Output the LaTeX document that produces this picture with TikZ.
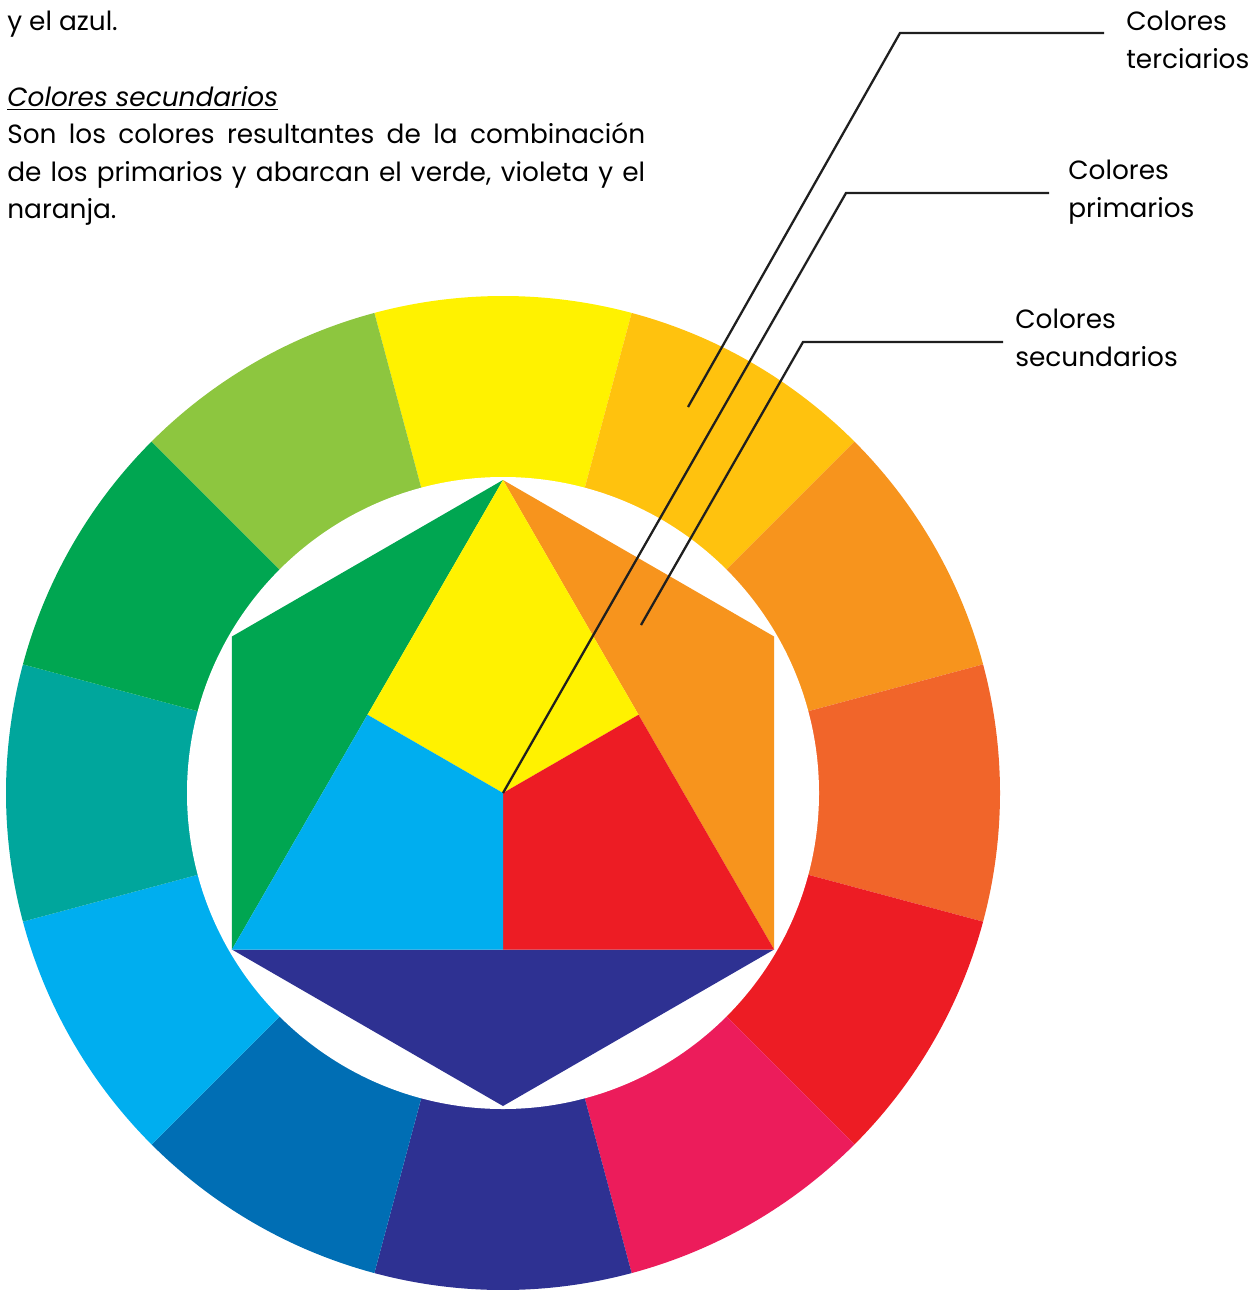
\documentclass[tikz,border=0pt]{standalone}
\usepackage{fontspec}
\setmainfont{Poppins}
\usepackage{xcolor}
\usetikzlibrary{calc}
\definecolor{cyel}{HTML}{FFF200}
\definecolor{cyeor}{HTML}{FFC20E}
\definecolor{corg}{HTML}{F7941D}
\definecolor{creor}{HTML}{F1652A}
\definecolor{cred}{HTML}{ED1C24}
\definecolor{cmag}{HTML}{EC1C5B}
\definecolor{cvio}{HTML}{2E3192}
\definecolor{cblu}{HTML}{006EB4}
\definecolor{ccya}{HTML}{00AEEF}
\definecolor{ctea}{HTML}{00A69C}
\definecolor{cgre}{HTML}{00A651}
\definecolor{cyegr}{HTML}{8DC63F}

\begin{document}
\begin{tikzpicture}[x=0.02cm,y=-0.02cm,
        lead/.style={draw=black!88,line width=1.3pt},
        lbl/.style={anchor=north west,inner sep=0pt,align=left,
                    font=\fontsize{15}{21.3}\selectfont}]
        \useasboundingbox (0,0) rectangle (1254,1290);
        \coordinate (c) at (503,793);
        % outer ring
        \foreach \a/\col in {-90/cyel,-60/cyeor,-30/corg,0/creor,30/cred,60/cmag,
                             90/cvio,120/cblu,150/ccya,180/ctea,210/cgre,240/cyegr}{
          \fill[\col] (c) -- ++(\a-15:497) arc[start angle=\a-15,end angle=\a+15,radius=497] -- cycle;
        }
        \fill[white] (c) circle[radius=316];
        % hexagon
        \foreach \n/\a in {t/-90,ur/-30,lr/30,b/90,ll/150,ul/210}
          \path (c) ++(\a:313) coordinate (\n);
        \coordinate (ml) at ($(t)!0.5!(ll)$);
        \coordinate (mr) at ($(t)!0.5!(lr)$);
        \coordinate (mb) at ($(ll)!0.5!(lr)$);
        \fill[corg] (t) -- (ur) -- (lr) -- cycle;
        \fill[cgre] (t) -- (ul) -- (ll) -- cycle;
        \fill[cvio] (ll) -- (lr) -- (b) -- cycle;
        \fill[cyel] (t) -- (mr) -- (c) -- (ml) -- cycle;
        \fill[cred] (c) -- (mr) -- (lr) -- (mb) -- cycle;
        \fill[ccya] (c) -- (mb) -- (ll) -- (ml) -- cycle;
        % leaders
        \coordinate (ter0) at (688,407);
        \coordinate (ter1) at (900,33);
        \coordinate (ter2) at (1104,33);
        \coordinate (pri1) at (846,193);
        \coordinate (pri2) at (1049,193);
        \coordinate (sec0) at (641,625);
        \coordinate (sec1) at (803,342);
        \coordinate (sec2) at (1003,342);
        \draw[lead] (ter0) -- (ter1) -- (ter2);
        \draw[lead] (c) -- (pri1) -- (pri2);
        \draw[lead] (sec0) -- (sec1) -- (sec2);
        \node[lbl] (lblter) at (1126,11) {Colores\\terciarios};
        \node[lbl] (lblpri) at (1068,160) {Colores\\primarios};
        \node[lbl] (lblsec) at (1015,309) {Colores\\secundarios};
        % text
        \node[lbl] (azul) at (7,11) {y el azul.};
        \node[lbl] (par) at (7,86) {\underline{\textit{Colores secundarios}}\\
          \makebox[12.76cm][s]{Son los colores resultantes de la combinación}\\
          \makebox[12.76cm][s]{de los primarios y abarcan el verde, violeta y el}\\
          naranja.};
      \end{tikzpicture}
\end{document}
